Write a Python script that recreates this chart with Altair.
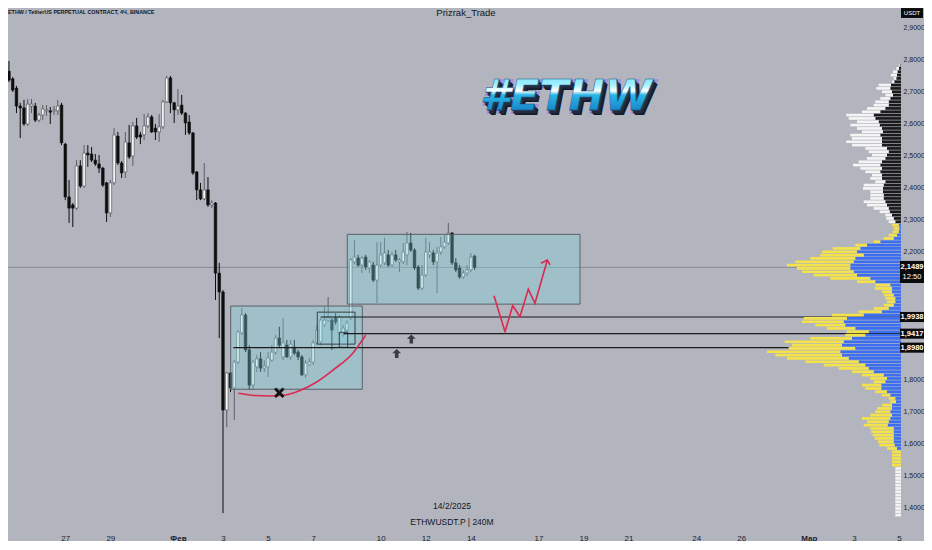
import altair as alt
import pandas as pd

# ---------------- candles: ETHW / USDT perpetual, 4h ----------------
first_bar = "2025-01-24 04:00"
opens = [2.600,2.694,2.762,2.738,2.709,2.653,2.647,2.597,2.653,2.653,
         2.609,2.625,2.638,2.638,2.638,2.638,2.656,2.534,2.369,2.344,
         2.334,2.466,2.403,2.506,2.503,2.484,2.472,2.459,2.413,2.319,
         2.413,2.559,2.475,2.447,2.538,2.497,2.591,2.563,2.563,2.591,
         2.619,2.584,2.572,2.588,2.666,2.741,2.663,2.641,2.656,2.631,
         2.603,2.569,2.447,2.391,2.363,2.391,2.344,2.350,2.131,2.072,
         1.703,1.819,1.772,1.853,1.944,2.000,1.891,1.781,1.838,1.863,
         1.834,1.838,1.859,1.884,1.928,1.869,1.906,1.869,1.900,1.884,
         1.869,1.813,1.844,1.853,1.913,1.916,1.969,1.984,1.984,1.991,
         1.944,1.938,1.953,1.991,2.166,2.178,2.156,2.181,2.147,2.156,
         2.109,2.156,2.163,2.188,2.156,2.188,2.166,2.166,2.188,2.225,
         2.203,2.150,2.084,2.125,2.188,2.194,2.166,2.197,2.213,2.225,
         2.256,2.163,2.147,2.119,2.131,2.141,2.184]
highs = [2.700,2.775,2.794,2.744,2.716,2.663,2.672,2.675,2.675,2.663,
         2.631,2.656,2.656,2.650,2.653,2.672,2.663,2.538,2.422,2.350,
         2.484,2.484,2.531,2.531,2.525,2.503,2.500,2.463,2.416,2.422,
         2.584,2.572,2.481,2.572,2.594,2.603,2.616,2.572,2.628,2.631,
         2.625,2.597,2.628,2.672,2.747,2.747,2.666,2.706,2.688,2.634,
         2.625,2.572,2.450,2.413,2.475,2.431,2.359,2.353,2.163,2.078,
         1.822,1.822,1.859,1.953,2.022,2.006,1.906,1.859,1.875,1.884,
         1.859,1.884,1.906,1.938,1.963,1.991,1.922,1.922,1.922,1.891,
         1.875,1.859,1.866,1.922,1.969,1.991,2.025,2.056,1.991,2.006,
         2.000,1.969,1.984,2.178,2.234,2.188,2.184,2.188,2.172,2.166,
         2.228,2.228,2.241,2.203,2.197,2.203,2.178,2.225,2.259,2.256,
         2.209,2.156,2.156,2.241,2.228,2.203,2.213,2.244,2.250,2.288,
         2.259,2.178,2.156,2.141,2.156,2.194,2.188]
lows = [2.594,2.688,2.728,2.697,2.631,2.553,2.591,2.591,2.631,2.603,
        2.603,2.609,2.622,2.597,2.625,2.625,2.531,2.359,2.288,2.275,
        2.328,2.397,2.397,2.463,2.478,2.466,2.444,2.400,2.291,2.306,
        2.406,2.469,2.428,2.428,2.488,2.466,2.550,2.534,2.547,2.584,
        2.569,2.547,2.541,2.581,2.663,2.631,2.600,2.625,2.625,2.563,
        2.563,2.438,2.359,2.359,2.359,2.338,2.334,2.047,1.928,1.381,
        1.650,1.759,1.672,1.847,1.938,1.884,1.766,1.766,1.822,1.822,
        1.822,1.806,1.853,1.875,1.900,1.859,1.866,1.859,1.875,1.859,
        1.809,1.803,1.841,1.844,1.906,1.906,1.963,1.978,1.891,1.969,
        1.938,1.931,1.947,1.984,2.159,2.150,2.131,2.141,2.131,2.103,
        2.038,2.150,2.156,2.150,2.150,2.166,2.134,2.159,2.156,2.197,
        2.141,2.078,2.078,2.119,2.178,2.156,2.069,2.188,2.206,2.219,
        2.156,2.134,2.113,2.113,2.122,2.134,2.141]
closes = [2.694,2.759,2.734,2.703,2.653,2.647,2.597,2.659,2.659,2.609,
          2.625,2.644,2.641,2.634,2.641,2.653,2.538,2.369,2.334,2.334,
          2.466,2.403,2.506,2.500,2.484,2.472,2.459,2.406,2.319,2.413,
          2.563,2.475,2.444,2.541,2.494,2.591,2.556,2.556,2.591,2.619,
          2.572,2.572,2.588,2.666,2.741,2.663,2.641,2.653,2.631,2.600,
          2.569,2.444,2.391,2.363,2.391,2.344,2.350,2.131,2.072,1.703,
          1.819,1.772,1.853,1.947,2.000,1.891,1.781,1.853,1.863,1.834,
          1.841,1.866,1.884,1.928,1.906,1.913,1.869,1.909,1.881,1.869,
          1.813,1.850,1.853,1.913,1.953,1.984,1.984,1.991,1.953,1.978,
          1.994,1.959,1.975,2.172,2.181,2.156,2.178,2.150,2.166,2.109,
          2.156,2.188,2.194,2.156,2.188,2.172,2.172,2.197,2.225,2.203,
          2.147,2.084,2.125,2.197,2.197,2.166,2.194,2.213,2.228,2.256,
          2.163,2.141,2.119,2.131,2.141,2.181,2.1489]

last_price = 2.1489
countdown = "12:50"

# ---------------- drawings (x = days from 3 Feb 2025, y = price) ----------------
box_d0 = [0.342, 5.517]
box_d1 = [6.183, 15.846]
box_p0 = [1.768, 2.034]
box_p1 = [2.028, 2.252]
sub_d0 = [4.185, 5.162]
sub_d1 = [5.859, 5.535]
sub_p0 = [1.909, 1.899]
sub_p1 = [2.009, 1.946]

level_prices = [1.9938, 1.9417, 1.8980]
level_start = [4.336, 5.340, 0.457]

arc_d = [0.679, 1.420, 2.086, 2.752, 3.418, 4.084, 4.883, 5.770, 6.334]
arc_p = [1.7553, 1.7484, 1.7469, 1.7500, 1.7641, 1.7875, 1.8281, 1.8813, 1.9375]

zig_d = [12.028, 12.517, 12.858, 13.182, 13.551, 13.848, 14.394]
zig_p = [2.0603, 1.9478, 2.0291, 1.9947, 2.0803, 2.0366, 2.1719]
head_d = [14.114, 14.394, 14.514]
head_p = [2.1616, 2.1719, 2.1563]

arrow_d = [8.358, 7.710]
arrow_p = [1.9250, 1.8797]
cross_d = [2.499]
cross_p = [1.7572]

x_ticks = [-7, -5, -2, 0, 2, 4, 7, 9, 11, 14, 16, 18, 21, 23, 26, 28, 30]
y_ticks = [1.4, 1.5, 1.6, 1.7, 1.8, 2.2, 2.3, 2.4, 2.5, 2.6, 2.7, 2.8, 2.9]

# ---------------- visible-range volume profile ----------------
profile_top = 2.781
profile_row = 0.010417
vp_inner = [0.7,2,3.5,4,4.7,6.7,10,10.7,9,8,
            10.7,12.3,12.3,15.7,20.7,27.3,25.7,22.3,21.3,19,
            18,20.7,19,19,19,14,12.3,14,15.7,19,
            20.7,19,20.7,19,19,15.7,17.3,18,18,17.3,
            17.3,15.7,14,12.3,11.3,9,7.3,5.7,
            2.3,1.7,2.3,4,7.3,20.7,34,40.7,44,37.3,
            45.7,47.3,50.7,50.7,47.3,44,30.7,25.7,10.7,9,
            9,7.3,5.7,5.7,7.3,12.3,19,37.3,54,57.3,
            55.7,45.7,32.3,35.7,49,57.3,59,45.7,60.7,59,
            52.3,42.3,35.7,32.3,27.3,17.3,14,15.7,19.7,19.7,
            14,10.7,5.7,5,9,9,10.7,9,10.7,12.3,
            13.3,7.3,7.3,7.3,7.3,7.3,6.3,4,
            0,0,0,0,0,
            0,0,0,0,0,0,0,0,0,0,0,0,0,0,0]
vp_outer = [1.0,2.7,4.5,6,2.6,2.3,12.3,14,10,7.7,
            10,13.4,15,18.3,18.3,27.4,26.6,21.7,29.4,25,
            21,30,30,35.7,30,21.7,20,15,18.3,23.3,
            27.3,21.7,15,10,11.7,10,20,20,12.7,13.4,
            13.4,21.6,20,15,10,6.7,7.4,6.6,
            6.7,5.6,6,8.3,10,6.6,11.7,27.6,35,43.4,
            45,58.4,63.3,53.3,51.7,43.3,40,18.3,15,17.3,
            10,10,10,8.3,10,15,23.3,31.7,43.3,41.7,
            30,28.3,21.7,20,41.7,59,50,66.6,73.3,66.7,
            61.7,53.4,41.6,30,21.7,21.7,16.7,11.6,19.3,16,
            11.7,8.3,6.6,5.7,10,15,15,21.7,28.3,21.7,
            24,23.4,22.4,21,19,15.7,15.4,10,
            9,9,9,9,9,
            5.7,5.7,5.7,5.7,5.7,5.7,5.7,5.7,5.7,5.7,5.7,5.7,5.7,5.7,5.7]
n_upper, n_va, n_yel = 48, 68, 5

# ---------------- styling ----------------
BG = "#b2b5be"
TXT = "#1e222d"
FONT = "Liberation Sans"
RED = "#d92a52"
W, H = 893, 520
X0, X1 = -9.543, 30.093
XD = alt.Scale(domain=[X0, X1], nice=False, zero=False, padding=0)
YP = alt.Scale(domain=[1.3344, 2.9594], nice=False, zero=False, padding=0)
PROFILE_SPAN = (X1 - X0) / W   # profile width: one volume unit per pixel column

# ---------------- frames ----------------
t = pd.date_range(first_bar, periods=len(opens), freq="4h")
cdf = pd.DataFrame({"o": opens, "h": highs, "l": lows, "c": closes})
cdf["d"] = (t - pd.Timestamp("2025-02-03")) / pd.Timedelta(days=1)
cdf["dir"] = ["up" if c >= o else "dn" for o, c in zip(opens, closes)]
cdf["top"] = cdf[["o", "c"]].max(axis=1)
cdf["bot"] = pd.concat([cdf[["o", "c"]].min(axis=1), cdf["top"] - 0.002], axis=1).min(axis=1)
cdf["h"] = cdf[["h", "top"]].max(axis=1)
cdf["l"] = cdf[["l", "bot"]].min(axis=1)

x_axis = alt.Axis(values=x_ticks,
                  labelExpr="datum.value==-2?'Фев':datum.value==26?'Мар':"
                            "(3+datum.value<=0?34+datum.value:(3+datum.value>28?datum.value-25:3+datum.value))",
                  labelFontWeight={"condition": {"test": "datum.value==-2||datum.value==26", "value": "bold"},
                                   "value": "normal"},
                  domain=False, ticks=False, grid=False, labelPadding=6,
                  labelFontSize=8, labelColor=TXT, labelFont=FONT, labelOverlap=False,
                  labelFlush=False, title=None)
y_axis = alt.Axis(orient="right", values=y_ticks,
                  labelExpr="replace(format(datum.value, '.4f'), '.', ',')",
                  domain=False, ticks=False, grid=False, labelPadding=2,
                  labelFontSize=7, labelColor=TXT, labelFont=FONT, labelAlign="left",
                  labelOverlap=False, title=None)

cur_line = alt.Chart(pd.DataFrame({"x": [X0], "x2": [X1], "y": [last_price]})).mark_rule(
    color="#8a8d95", strokeWidth=1).encode(
    x=alt.X("x:Q", scale=XD, axis=x_axis), x2="x2:Q",
    y=alt.Y("y:Q", scale=YP, axis=y_axis))

wicks = alt.Chart(cdf).mark_rule(strokeWidth=1).encode(
    x=alt.X("d:Q", scale=XD),
    y=alt.Y("l:Q", scale=YP), y2="h:Q",
    color=alt.Color("dir:N", scale=alt.Scale(domain=["up", "dn"], range=["#5b5e66", "#0e0e0e"]), legend=None))

bodies = alt.Chart(cdf).mark_bar(size=2.6, strokeWidth=0.6).encode(
    x=alt.X("d:Q", scale=XD),
    y=alt.Y("bot:Q", scale=YP), y2="top:Q",
    fill=alt.Fill("dir:N", scale=alt.Scale(domain=["up", "dn"], range=["#fafafa", "#0e0e0e"]), legend=None),
    stroke=alt.Stroke("dir:N", scale=alt.Scale(domain=["up", "dn"], range=["#45484f", "#0e0e0e"]), legend=None))

boxes = alt.Chart(pd.DataFrame({"d0": box_d0, "d1": box_d1, "p0": box_p0, "p1": box_p1})).mark_rect(
    fill="#7fd3e0", fillOpacity=0.35, stroke="#5c6068", strokeWidth=1).encode(
    x=alt.X("d0:Q", scale=XD), x2="d1:Q",
    y=alt.Y("p0:Q", scale=YP), y2="p1:Q")

subboxes = alt.Chart(pd.DataFrame({"d0": sub_d0, "d1": sub_d1, "p0": sub_p0, "p1": sub_p1})).mark_rect(
    fill="#7fd3e0", fillOpacity=0.2, stroke="#3a3d44", strokeWidth=1).encode(
    x=alt.X("d0:Q", scale=XD), x2="d1:Q",
    y=alt.Y("p0:Q", scale=YP), y2="p1:Q")

levels = alt.Chart(pd.DataFrame({"d0": level_start, "d1": [X1] * 3, "p": level_prices})).mark_rule(
    color="#1b1b1b", strokeWidth=1.2).encode(
    x=alt.X("d0:Q", scale=XD), x2="d1:Q",
    y=alt.Y("p:Q", scale=YP))

arc = alt.Chart(pd.DataFrame({"d": arc_d, "p": arc_p, "i": range(len(arc_d))})).mark_line(
    color=RED, strokeWidth=1.6, interpolate="monotone").encode(
    x=alt.X("d:Q", scale=XD), y=alt.Y("p:Q", scale=YP), order="i:Q")

zdf = pd.DataFrame({"d": zig_d + head_d, "p": zig_p + head_p,
                    "seg": ["zig"] * len(zig_d) + ["head"] * len(head_d),
                    "i": list(range(len(zig_d))) + list(range(len(head_d)))})
zig = alt.Chart(zdf).mark_line(color=RED, strokeWidth=1.6).encode(
    x=alt.X("d:Q", scale=XD), y=alt.Y("p:Q", scale=YP),
    detail="seg:N", order="i:Q")

ARROW = "M0,-1 L0.95,-0.05 L0.38,-0.05 L0.38,1 L-0.38,1 L-0.38,-0.05 L-0.95,-0.05 Z"
arrows = alt.Chart(pd.DataFrame({"d": arrow_d, "p": arrow_p})).mark_point(
    shape=ARROW, filled=True, size=85, color="#393c44", opacity=1, strokeWidth=0).encode(
    x=alt.X("d:Q", scale=XD), y=alt.Y("p:Q", scale=YP))

XSHAPE = ("M-1,-0.62 L-0.62,-1 L0,-0.38 L0.62,-1 L1,-0.62 L0.38,0 L1,0.62 L0.62,1 "
          "L0,0.38 L-0.62,1 L-1,0.62 L-0.38,0 Z")
cross = alt.Chart(pd.DataFrame({"d": cross_d, "p": cross_p})).mark_point(
    shape=XSHAPE, filled=True, size=110, color="#111111", opacity=1, strokeWidth=0).encode(
    x=alt.X("d:Q", scale=XD), y=alt.Y("p:Q", scale=YP))

# profile, anchored to the right edge of the visible range
rows = []
for k, (vin, vout) in enumerate(zip(vp_inner, vp_outer)):
    p = profile_top - k * profile_row
    if k < n_upper:
        ci, co = "#1a1a1a", "#f4f4f4"
    elif k < n_upper + n_va + n_yel:
        ci, co = "#3b6ef0", "#f3e24b"
    else:
        ci, co = "#1a1a1a", "#f4f4f4"
    if vin > 0:
        rows.append({"v0": 0, "v1": vin, "y0": p - 0.0042, "y1": p + 0.0042, "col": ci})
    rows.append({"v0": vin, "v1": vin + vout, "y0": p - 0.0042, "y1": p + 0.0042, "col": co})
pdf = pd.DataFrame(rows)
profile = alt.Chart(pdf).transform_calculate(
    xa=f"{X1} - datum.v0 * {PROFILE_SPAN}", xb=f"{X1} - datum.v1 * {PROFILE_SPAN}"
).mark_rect().encode(
    x=alt.X("xa:Q", scale=XD), x2="xb:Q",
    y=alt.Y("y0:Q", scale=YP), y2="y1:Q",
    color=alt.Color("col:N", scale=None))

# price tags on the right axis
TAGX = W + 11
RECT = "M-1,-0.42 L1,-0.42 L1,0.42 L-1,0.42 Z"
RECT2 = "M-1,-0.92 L1,-0.92 L1,0.92 L-1,0.92 Z"
tdf = pd.DataFrame({"p": level_prices, "lab": [f"{v:.4f}".replace(".", ",") for v in level_prices]})
tags = alt.Chart(tdf).mark_point(shape=RECT, filled=True, size=576, color="#0b0b0d", opacity=1,
                                 strokeWidth=0).encode(
    x=alt.value(TAGX), y=alt.Y("p:Q", scale=YP))
tag_txt = alt.Chart(tdf).mark_text(color="white", fontSize=7.5, font=FONT, fontWeight="bold").encode(
    x=alt.value(TAGX), y=alt.Y("p:Q", scale=YP), text="lab:N")
cdf2 = pd.DataFrame({"p": [last_price], "lab": [f"{last_price:.4f}".replace(".", ",")], "cd": [countdown]})
cur_tag = alt.Chart(cdf2).mark_point(shape=RECT2, filled=True, size=576, color="#0b0b0d", opacity=1,
                                     strokeWidth=0, yOffset=4.6).encode(
    x=alt.value(TAGX), y=alt.Y("p:Q", scale=YP))
cur_txt = alt.Chart(cdf2).mark_text(color="white", fontSize=7.5, font=FONT, fontWeight="bold").encode(
    x=alt.value(TAGX), y=alt.Y("p:Q", scale=YP), text="lab:N")
cur_cd = alt.Chart(cdf2).mark_text(color="white", fontSize=7.5, font=FONT, yOffset=10).encode(
    x=alt.value(TAGX), y=alt.Y("p:Q", scale=YP), text="cd:N")

one = pd.DataFrame({"a": [0]})
usdt_box = alt.Chart(one).mark_point(shape="M-1,-0.45 L1,-0.45 L1,0.45 L-1,0.45 Z", filled=True,
                                     size=484, color="#0b0b0d", opacity=1, strokeWidth=0).encode(
    x=alt.value(TAGX), y=alt.value(5))
usdt_txt = alt.Chart(one).mark_text(text="USDT", color="white", fontSize=6, font=FONT).encode(
    x=alt.value(TAGX), y=alt.value(5))

title_tl = alt.Chart(one).mark_text(text="ETHW / TetherUS PERPETUAL CONTRACT, 4Ч, BINANCE", align="left",
                                    baseline="middle", fontSize=5.4, fontWeight="bold", font=FONT,
                                    color="#131722").encode(x=alt.value(0), y=alt.value(4))
author = alt.Chart(one).mark_text(text="Prizrak_Trade", fontSize=9.5, font=FONT, color="#131722",
                                  baseline="middle").encode(x=alt.value(458), y=alt.value(5))
date_txt = alt.Chart(one).mark_text(text="14/2/2025", fontSize=8.5, font=FONT, color="#131722").encode(
    x=alt.value(444), y=alt.value(498))
sym_txt = alt.Chart(one).mark_text(text="ETHWUSDT.P | 240M", fontSize=8.5, font=FONT, color="#131722").encode(
    x=alt.value(444), y=alt.value(514))

logo_layers = []
LX, LY = 558, 89
LFS = 43
chrome = alt.Gradient(gradient="linear", x1=0, x2=0, y1=0, y2=1,
                      stops=[alt.GradientStop(color="#4fdcff", offset=0),
                             alt.GradientStop(color="#a8f0ff", offset=0.3),
                             alt.GradientStop(color="#ffffff", offset=0.42),
                             alt.GradientStop(color="#2ab6e6", offset=0.5),
                             alt.GradientStop(color="#1b8fd0", offset=0.75),
                             alt.GradientStop(color="#1560a8", offset=1)])
logo_layers.append(alt.Chart(one).mark_text(text="#ETHW", fontSize=LFS, font="DejaVu Sans", fontWeight="bold",
                                            fontStyle="italic", fill="#9d86e8", stroke="#9d86e8",
                                            strokeWidth=4, opacity=0.75, dx=2, dy=2).encode(
    x=alt.value(LX), y=alt.value(LY)))
for ddx, ddy, col in [(4, 5, "#151a28"), (3, 3.8, "#1b2133"), (2, 2.5, "#222a3e"), (1, 1.2, "#2b3a58")]:
    logo_layers.append(alt.Chart(one).mark_text(text="#ETHW", fontSize=LFS, font="DejaVu Sans", fontWeight="bold",
                                                fontStyle="italic", color=col, dx=ddx, dy=ddy).encode(
        x=alt.value(LX), y=alt.value(LY)))
logo_layers.append(alt.Chart(one).mark_text(text="#ETHW", fontSize=LFS, font="DejaVu Sans", fontWeight="bold",
                                            fontStyle="italic", fill=chrome, stroke="#0e4f7a",
                                            strokeWidth=0.5).encode(x=alt.value(LX), y=alt.value(LY)))

chart = alt.layer(
    cur_line, wicks, bodies, boxes, subboxes, levels, arc, zig, arrows, cross, profile,
    tags, tag_txt, cur_tag, cur_txt, cur_cd, usdt_box, usdt_txt,
    title_tl, author, date_txt, sym_txt, *logo_layers
).properties(
    width=W, height=H,
    autosize=alt.AutoSizeParams(type="none"),
    padding={"left": 0, "top": 0, "right": 23, "bottom": 13},
).configure(background=BG, font=FONT).configure_view(stroke=None)

chart.save("out.html", embed_options={"renderer": "svg", "actions": False})
